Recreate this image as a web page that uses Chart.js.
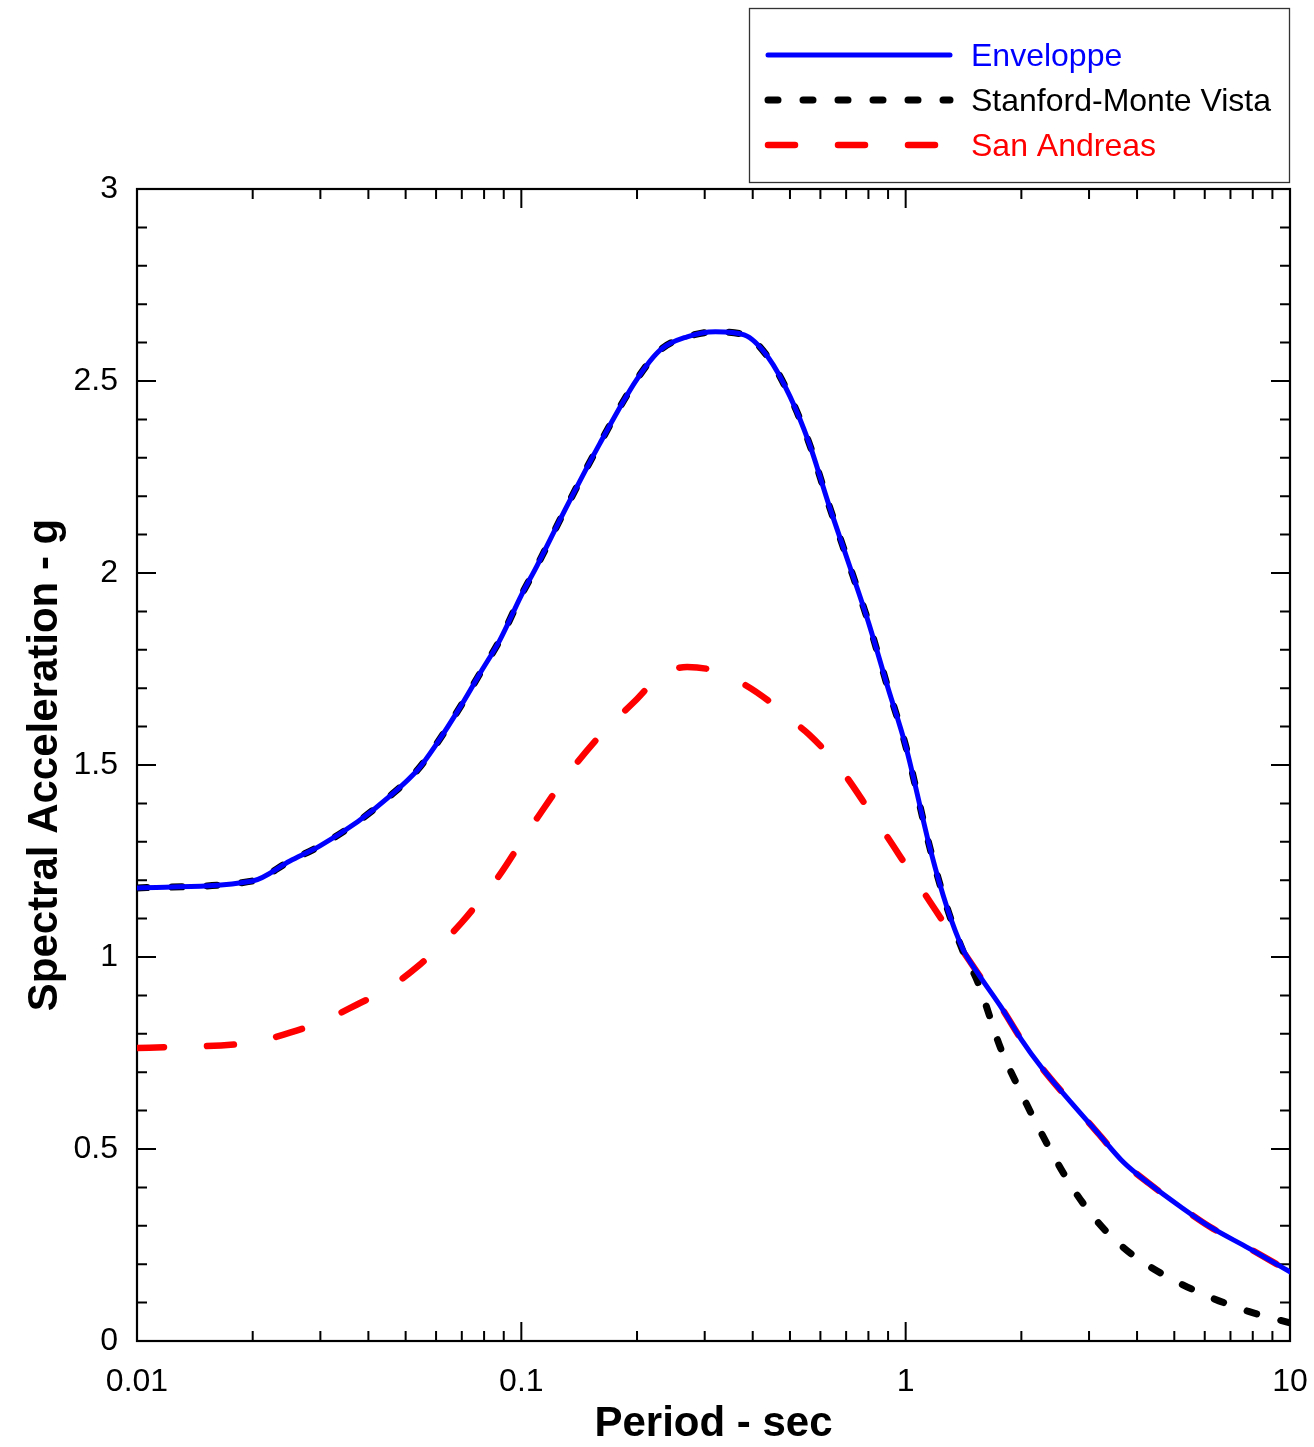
<!DOCTYPE html>
<html>
<head>
<meta charset="utf-8">
<script src="https://cdn.jsdelivr.net/npm/chart.js@4.4.0/dist/chart.umd.min.js"></script>
<style>
  html, body { margin: 0; padding: 0; background: #fff; }
  #wrap { width: 1314px; height: 1447px; }
</style>
</head>
<body>
<div id="wrap"><canvas id="spectre"></canvas></div>
<script>
// periodes (s) et accelerations spectrales (g)
const periodes = [0.01, 0.02, 0.025, 0.03, 0.0375, 0.045, 0.054, 0.06, 0.07, 0.078,
  0.088, 0.1, 0.11, 0.13, 0.16, 0.2, 0.23, 0.27, 0.32, 0.38,
  0.44, 0.5, 0.56, 0.63, 0.7, 0.8, 0.9, 1.0, 1.16, 1.28,
  1.41, 1.54, 1.77, 2.0, 2.25, 2.7, 3.16, 3.7, 4.3, 5.2,
  6.2, 7.8, 10];

const enveloppe = [1.18, 1.198, 1.25, 1.29, 1.352, 1.415, 1.49, 1.553, 1.658, 1.738,
  1.826, 1.942, 2.02, 2.165, 2.337, 2.505, 2.581, 2.615, 2.628, 2.62,
  2.56, 2.46, 2.34, 2.18, 2.045, 1.872, 1.70, 1.55, 1.279, 1.13,
  1.02, 0.958, 0.87, 0.785, 0.714, 0.62, 0.542, 0.464, 0.41, 0.349,
  0.297, 0.242, 0.18];

const stanford = [1.18, 1.198, 1.25, 1.29, 1.352, 1.415, 1.49, 1.553, 1.658, 1.738,
  1.826, 1.942, 2.02, 2.165, 2.337, 2.505, 2.581, 2.615, 2.628, 2.62,
  2.56, 2.46, 2.34, 2.18, 2.045, 1.872, 1.70, 1.55, 1.279, 1.13,
  1.015, 0.935, 0.76, 0.645, 0.543, 0.403, 0.31, 0.242, 0.195, 0.149,
  0.114, 0.077, 0.047];

const sanAndreas = [0.763, 0.778, 0.803, 0.83, 0.877, 0.918, 0.977, 1.02, 1.09, 1.147,
  1.215, 1.30, 1.362, 1.466, 1.576, 1.672, 1.733, 1.755, 1.745, 1.71,
  1.667, 1.62, 1.58, 1.527, 1.47, 1.385, 1.31, 1.24, 1.142, 1.077,
  1.015, 0.958, 0.87, 0.785, 0.714, 0.62, 0.542, 0.464, 0.41, 0.349,
  0.297, 0.242, 0.18];

const xTicks = [0.01, 0.1, 1, 10];
const xTickLabels = ['0.01', '0.1', '1', '10'];
const yTicks = [0, 0.5, 1, 1.5, 2, 2.5, 3];
const yTickLabels = ['0', '0.5', '1', '1.5', '2', '2.5', '3'];

const police = "'Liberation Sans', Arial, Helvetica, sans-serif";

function points(valeurs) {
  return periodes.map((t, i) => ({ x: t, y: valeurs[i] }));
}

// cadre et graduations tournees vers l'interieur sur les 4 cotes
const cadre = {
  id: 'cadre',
  beforeDatasetsDraw(chart) {
    const { ctx, chartArea: a, scales: { x, y } } = chart;
    ctx.save();
    ctx.strokeStyle = '#000';
    ctx.lineWidth = 2;
    ctx.beginPath();
    const trait = (x1, y1, x2, y2) => { ctx.moveTo(x1, y1); ctx.lineTo(x2, y2); };

    xTicks.slice(0, -1).forEach(d => {
      for (let k = 1; k <= 9; k++) {
        const px = x.getPixelForValue(d * k);
        const l = k === 1 ? 19 : 10;
        trait(px, a.bottom, px, a.bottom - l);
        trait(px, a.top, px, a.top + l);
      }
    });
    for (let v = 0; v <= 30; v++) {
      const py = y.getPixelForValue(v / 10);
      const l = v % 5 === 0 ? 19 : 10;
      trait(a.left, py, a.left + l, py);
      trait(a.right, py, a.right - l, py);
    }
    ctx.stroke();

    ctx.lineWidth = 2.2;
    ctx.strokeRect(a.left, a.top, a.right - a.left, a.bottom - a.top);
    ctx.restore();
  }
};

// legende encadree en haut a droite
const legende = {
  id: 'legende',
  afterDraw(chart) {
    const ctx = chart.ctx;
    ctx.save();
    ctx.fillStyle = '#fff';
    ctx.fillRect(749, 8, 540, 174);
    ctx.strokeStyle = '#333';
    ctx.lineWidth = 1.3;
    ctx.strokeRect(749.5, 8.5, 540, 174);

    ctx.font = '32px ' + police;
    ctx.textBaseline = 'middle';
    ctx.textAlign = 'left';
    chart.data.datasets.forEach((ds, i) => {
      const ly = 55 + i * 45;
      ctx.beginPath();
      ctx.strokeStyle = ds.borderColor;
      ctx.lineWidth = ds.borderWidth;
      ctx.lineCap = 'round';
      ctx.setLineDash(ds.borderDash || []);
      ctx.moveTo(768, ly);
      ctx.lineTo(950, ly);
      ctx.stroke();
      ctx.setLineDash([]);
      ctx.fillStyle = ds.borderColor;
      ctx.fillText(ds.label, 971, ly + 2);
    });
    ctx.restore();
  }
};

new Chart(document.getElementById('spectre'), {
  type: 'line',
  data: {
    datasets: [
      {
        label: 'Enveloppe',
        data: points(enveloppe),
        borderColor: '#0000ff',
        borderWidth: 5,
        order: 0
      },
      {
        label: 'Stanford-Monte Vista',
        data: points(stanford),
        borderColor: '#000000',
        borderWidth: 7,
        borderDash: [10, 25],
        order: 1
      },
      {
        label: 'San Andreas',
        data: points(sanAndreas),
        borderColor: '#ff0000',
        borderWidth: 6.5,
        borderDash: [27, 43],
        order: 2
      }
    ]
  },
  options: {
    responsive: true,
    maintainAspectRatio: false,
    animation: false,
    devicePixelRatio: 1,
    layout: { padding: { top: 189, right: 24, left: 0, bottom: 0 } },
    elements: {
      point: { radius: 0 },
      line: {
        cubicInterpolationMode: 'monotone',
        borderCapStyle: 'round',
        borderJoinStyle: 'round',
        fill: false
      }
    },
    plugins: {
      legend: { display: false },
      tooltip: { enabled: false }
    },
    scales: {
      x: {
        type: 'logarithmic',
        min: 0.01,
        max: 10,
        grid: { display: false },
        border: { display: false },
        afterBuildTicks: s => { s.ticks = xTicks.map(v => ({ value: v })); },
        afterFit: s => {
          s.height = 106;
          s.paddingLeft = 0;
          s.paddingRight = 0;
        },
        ticks: {
          autoSkip: false,
          maxRotation: 0,
          padding: 14,
          color: '#000',
          font: { family: police, size: 32 },
          callback: v => xTickLabels[xTicks.indexOf(v)]
        },
        title: {
          display: true,
          text: 'Period - sec',
          color: '#000',
          padding: { top: 0, bottom: -3 },
          font: { family: police, size: 42, weight: 'bold' }
        }
      },
      y: {
        min: 0,
        max: 3,
        grid: { display: false },
        border: { display: false },
        afterBuildTicks: s => { s.ticks = yTicks.map(v => ({ value: v })); },
        afterFit: s => { s.width = 137; },
        ticks: {
          autoSkip: false,
          padding: 11,
          color: '#000',
          font: { family: police, size: 32 },
          callback: v => yTickLabels[yTicks.indexOf(v)]
        },
        title: {
          display: true,
          text: 'Spectral Acceleration - g',
          color: '#000',
          padding: { top: 20, bottom: 0 },
          font: { family: police, size: 42, weight: 'bold' }
        }
      }
    }
  },
  plugins: [cadre, legende]
});
</script>
</body>
</html>
